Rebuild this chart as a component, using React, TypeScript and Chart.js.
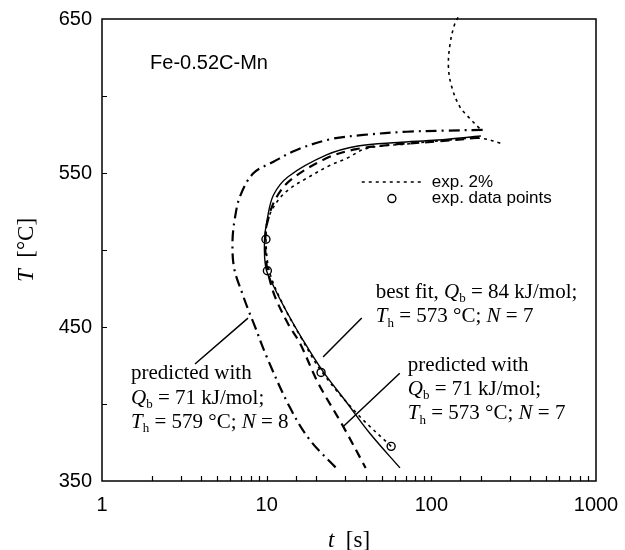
import React, { useEffect, useRef } from 'react';
import { Chart, registerables } from 'chart.js';

Chart.register(...registerables);

const WIDTH = 625;
const HEIGHT = 550;

// Best fit, Qb = 84 kJ/mol; Th = 573 °C; N = 7  (time [s], temperature [°C])
const bestFitTime = [200, 109, 62.6, 35.8, 23.1, 13.5, 11.0, 10.1, 9.7, 9.9, 11.0, 13.1, 16.4, 21.7, 30.3, 42.3, 64.5];
const bestFitTemp = [574, 571.4, 569.8, 567.5, 561.7, 547.6, 535.7, 520.6, 506, 488, 476.6, 460.7, 442.5, 422, 401.6, 381, 358.5];

// Predicted with Qb = 71 kJ/mol; Th = 573 °C; N = 7
const pred573Time = [195, 110, 60, 35, 23, 14, 11.3, 10.1, 9.8, 10.0, 10.6, 11.4, 13.5, 15.9, 20.6, 29.2, 39.9];
const pred573Temp = [573, 570.5, 568.5, 565.5, 559.5, 545.5, 533, 518, 505, 490, 478, 468, 452, 439.6, 413.4, 385.3, 358.5];

// Predicted with Qb = 71 kJ/mol; Th = 579 °C; N = 8
const pred579Time = [205, 120, 71, 38.6, 24.3, 15.2, 11.0, 8.3, 6.9, 6.4, 6.2, 6.35, 7.1, 7.74, 8.4, 10.0, 13.8, 18.3, 26.4];
const pred579Temp = [578, 577.5, 576.8, 574.7, 571.9, 565, 557.3, 549.8, 535, 520, 505, 488, 472, 461, 451.6, 430.7, 398, 376.6, 358.5];

// Experimental 2 % transformation line (lower branch up to the bay, upper branch above it)
const exp2LowTime = [57, 35.2, 21.6, 16, 12.5, 10.4, 9.9, 10.2, 11.5, 13.5, 17.5, 24.3, 30.6, 40.6, 74, 130, 200, 271];
const exp2LowTemp = [372.5, 394, 421, 444, 465, 486, 507, 520, 531, 539, 546.6, 555, 559.5, 566, 569, 571.5, 572.5, 569];
const exp2HighTime = [196, 171, 149, 133, 127, 130, 139, 149];
const exp2HighTemp = [579, 585.5, 593, 606, 619, 634, 647, 653];

// Experimental data points
const expPointTime = [9.9, 10.1, 21.4, 57];
const expPointTemp = [507, 486.5, 420.5, 372.5];

// Axis ranges and labelled ticks
const timeMin = 1;
const timeMax = 1000;
const tempMin = 350;
const tempMax = 650;
const tempStep = 50;
const tempLabels = [350, 450, 550, 650];

const SANS = '"Liberation Sans", Arial, Helvetica, sans-serif';
const SERIF = '"Liberation Serif", "Times New Roman", Times, serif';

type Seg = { s: string; it?: boolean; sub?: boolean };

const zip = (xs: number[], ys: number[]) => xs.map((x, i) => ({ x, y: ys[i] }));

function drawRich(ctx: CanvasRenderingContext2D, segs: Seg[], x: number, y: number, size: number) {
  let cx = x;
  ctx.textAlign = 'left';
  ctx.textBaseline = 'middle';
  for (const g of segs) {
    const fs = g.sub ? Math.round(size * 0.62) : size;
    ctx.font = `${g.it ? 'italic ' : ''}${fs}px ${SERIF}`;
    ctx.fillText(g.s, cx, y + (g.sub ? size * 0.3 : 0));
    cx += ctx.measureText(g.s).width;
  }
}

// Annotation blocks anchored in data units (time, temperature)
const annotations: { t: number; T: number; lines: Seg[][] }[] = [
  {
    t: 46,
    T: 472.4,
    lines: [
      [{ s: 'best fit, ' }, { s: 'Q', it: true }, { s: 'b', sub: true }, { s: ' = 84 kJ/mol;' }],
      [{ s: 'T', it: true }, { s: 'h', sub: true }, { s: ' = 573 °C; ' }, { s: 'N', it: true }, { s: ' = 7' }],
    ],
  },
  {
    t: 72,
    T: 425.1,
    lines: [
      [{ s: 'predicted with' }],
      [{ s: 'Q', it: true }, { s: 'b', sub: true }, { s: ' = 71 kJ/mol;' }],
      [{ s: 'T', it: true }, { s: 'h', sub: true }, { s: ' = 573 °C; ' }, { s: 'N', it: true }, { s: ' = 7' }],
    ],
  },
  {
    t: 1.5,
    T: 419.5,
    lines: [
      [{ s: 'predicted with' }],
      [{ s: 'Q', it: true }, { s: 'b', sub: true }, { s: ' = 71 kJ/mol;' }],
      [{ s: 'T', it: true }, { s: 'h', sub: true }, { s: ' = 579 °C; ' }, { s: 'N', it: true }, { s: ' = 8' }],
    ],
  },
];

// Leader lines from labels to curves, in data units
const leaders = [
  { t1: 3.67, T1: 426, t2: 7.7, T2: 455.8 },
  { t1: 22.0, T1: 430.5, t2: 37.8, T2: 455.8 },
  { t1: 29.2, T1: 385.4, t2: 64.3, T2: 420 },
];

const decorPlugin = {
  id: 'decor',
  afterDatasetsDraw(chart: any) {
    const { ctx, chartArea: a, scales } = chart;
    const xs = scales.x;
    const ys = scales.y;
    const px = (t: number) => xs.getPixelForValue(t);
    const py = (T: number) => ys.getPixelForValue(T);
    ctx.save();
    ctx.strokeStyle = '#000';
    ctx.fillStyle = '#000';

    // frame
    ctx.lineWidth = 1.5;
    ctx.setLineDash([]);
    ctx.strokeRect(a.left, a.top, a.right - a.left, a.bottom - a.top);

    // inward ticks
    ctx.lineWidth = 1.2;
    ctx.beginPath();
    for (const tk of xs.ticks) {
      const x = Math.round(px(tk.value)) + 0.5;
      if (tk.value <= timeMin || tk.value >= timeMax) continue;
      ctx.moveTo(x, a.bottom);
      ctx.lineTo(x, a.bottom - 5);
    }
    for (const tk of ys.ticks) {
      if (tk.value <= tempMin || tk.value >= tempMax) continue;
      const y = Math.round(py(tk.value)) + 0.5;
      ctx.moveTo(a.left, y);
      ctx.lineTo(a.left + 5, y);
    }
    ctx.stroke();

    // leader lines
    ctx.lineWidth = 1.5;
    ctx.beginPath();
    for (const l of leaders) {
      ctx.moveTo(px(l.t1), py(l.T1));
      ctx.lineTo(px(l.t2), py(l.T2));
    }
    ctx.stroke();

    // composition label
    ctx.font = `20px ${SANS}`;
    ctx.textAlign = 'left';
    ctx.textBaseline = 'middle';
    ctx.fillText('Fe-0.52C-Mn', px(1.96), py(620.8));

    // legend
    const legY1 = py(544.2);
    const legY2 = py(533.4);
    ctx.lineWidth = 1.6;
    ctx.setLineDash([3, 4]);
    ctx.beginPath();
    ctx.moveTo(px(37.8), legY1);
    ctx.lineTo(px(90.3), legY1);
    ctx.stroke();
    ctx.setLineDash([]);
    ctx.lineWidth = 1.4;
    ctx.beginPath();
    ctx.arc(px(57.6), legY2, 4, 0, Math.PI * 2);
    ctx.stroke();
    ctx.font = `17px ${SANS}`;
    ctx.fillText('exp. 2%', px(100.6), legY1);
    ctx.fillText('exp. data points', px(100.6), legY2);

    // annotation text
    for (const an of annotations) {
      an.lines.forEach((segs, i) => {
        drawRich(ctx, segs, px(an.t), py(an.T) + i * 24.3, 21);
      });
    }

    // axis titles
    const midX = (a.left + a.right) / 2;
    drawCentered(ctx, [{ s: 't', it: true }, { s: '  [s]' }], midX, 541, 23);
    ctx.save();
    ctx.translate(27, (a.top + a.bottom) / 2);
    ctx.rotate(-Math.PI / 2);
    drawCentered(ctx, [{ s: 'T', it: true }, { s: '  [°C]' }], 0, 0, 23);
    ctx.restore();

    ctx.restore();
  },
};

function drawCentered(ctx: CanvasRenderingContext2D, segs: Seg[], cx: number, cy: number, size: number) {
  let w = 0;
  for (const g of segs) {
    ctx.font = `${g.it ? 'italic ' : ''}${size}px ${SERIF}`;
    w += ctx.measureText(g.s).width;
  }
  drawRich(ctx, segs, cx - w / 2, cy, size);
}

export default function App() {
  const canvasRef = useRef<HTMLCanvasElement | null>(null);

  useEffect(() => {
    const canvas = canvasRef.current;
    if (!canvas) return;
    const lineBase = {
      type: 'scatter' as const,
      showLine: true,
      pointRadius: 0,
      borderColor: '#000',
      backgroundColor: '#000',
      tension: 0.35,
      fill: false,
    };
    const chart = new Chart(canvas, {
      type: 'scatter',
      data: {
        datasets: [
          { ...lineBase, label: 'best fit', data: zip(bestFitTime, bestFitTemp), borderWidth: 1.4 },
          { ...lineBase, label: 'predicted 573', data: zip(pred573Time, pred573Temp), borderWidth: 2.2, borderDash: [9, 6] },
          { ...lineBase, label: 'predicted 579', data: zip(pred579Time, pred579Temp), borderWidth: 2.2, borderDash: [11, 5, 2, 5] },
          { ...lineBase, label: 'exp. 2%', data: zip(exp2LowTime, exp2LowTemp), borderWidth: 1.6, borderDash: [3, 4] },
          {
            ...lineBase,
            label: 'exp. 2% upper',
            data: zip(exp2HighTime, exp2HighTemp),
            borderWidth: 1.6,
            borderDash: [3, 4],
            clip: { left: 0, top: 8, right: 0, bottom: 0 },
          },
          {
            type: 'scatter',
            label: 'exp. data points',
            data: zip(expPointTime, expPointTemp),
            showLine: false,
            pointRadius: 4,
            pointBorderWidth: 1.4,
            pointBorderColor: '#000',
            pointBackgroundColor: 'rgba(0,0,0,0)',
          },
        ] as any,
      },
      options: {
        animation: false,
        responsive: false,
        layout: { padding: { top: 19, right: 29, left: 0, bottom: 0 } },
        plugins: { legend: { display: false }, tooltip: { enabled: false } },
        scales: {
          x: {
            type: 'logarithmic',
            min: timeMin,
            max: timeMax,
            grid: { display: false, drawTicks: false },
            border: { display: false },
            ticks: {
              autoSkip: false,
              maxRotation: 0,
              padding: 12,
              color: '#000',
              font: { family: SANS, size: 20 },
              callback: (v: any) => {
                const lg = Math.log10(Number(v));
                return Math.abs(lg - Math.round(lg)) < 1e-9 ? String(Number(v)) : '';
              },
            },
            afterFit: (s: any) => {
              s.height = HEIGHT - 481;
              s.paddingLeft = 0;
              s.paddingRight = 0;
              s.paddingTop = 0;
              s.paddingBottom = 0;
            },
          },
          y: {
            type: 'linear',
            min: tempMin,
            max: tempMax,
            grid: { display: false, drawTicks: false },
            border: { display: false },
            ticks: {
              stepSize: tempStep,
              autoSkip: false,
              padding: 10,
              color: '#000',
              font: { family: SANS, size: 20 },
              callback: (v: any) => (tempLabels.includes(Number(v)) ? String(v) : ''),
            },
            afterFit: (s: any) => {
              s.width = 102;
              s.paddingLeft = 0;
              s.paddingRight = 0;
              s.paddingTop = 0;
              s.paddingBottom = 0;
            },
          },
        },
      } as any,
      plugins: [decorPlugin],
    });
    return () => chart.destroy();
  }, []);

  return (
    <div style={{ position: 'absolute', left: 0, top: 0, width: WIDTH, height: HEIGHT, background: '#fff' }}>
      <canvas ref={canvasRef} width={WIDTH} height={HEIGHT} />
    </div>
  );
}
